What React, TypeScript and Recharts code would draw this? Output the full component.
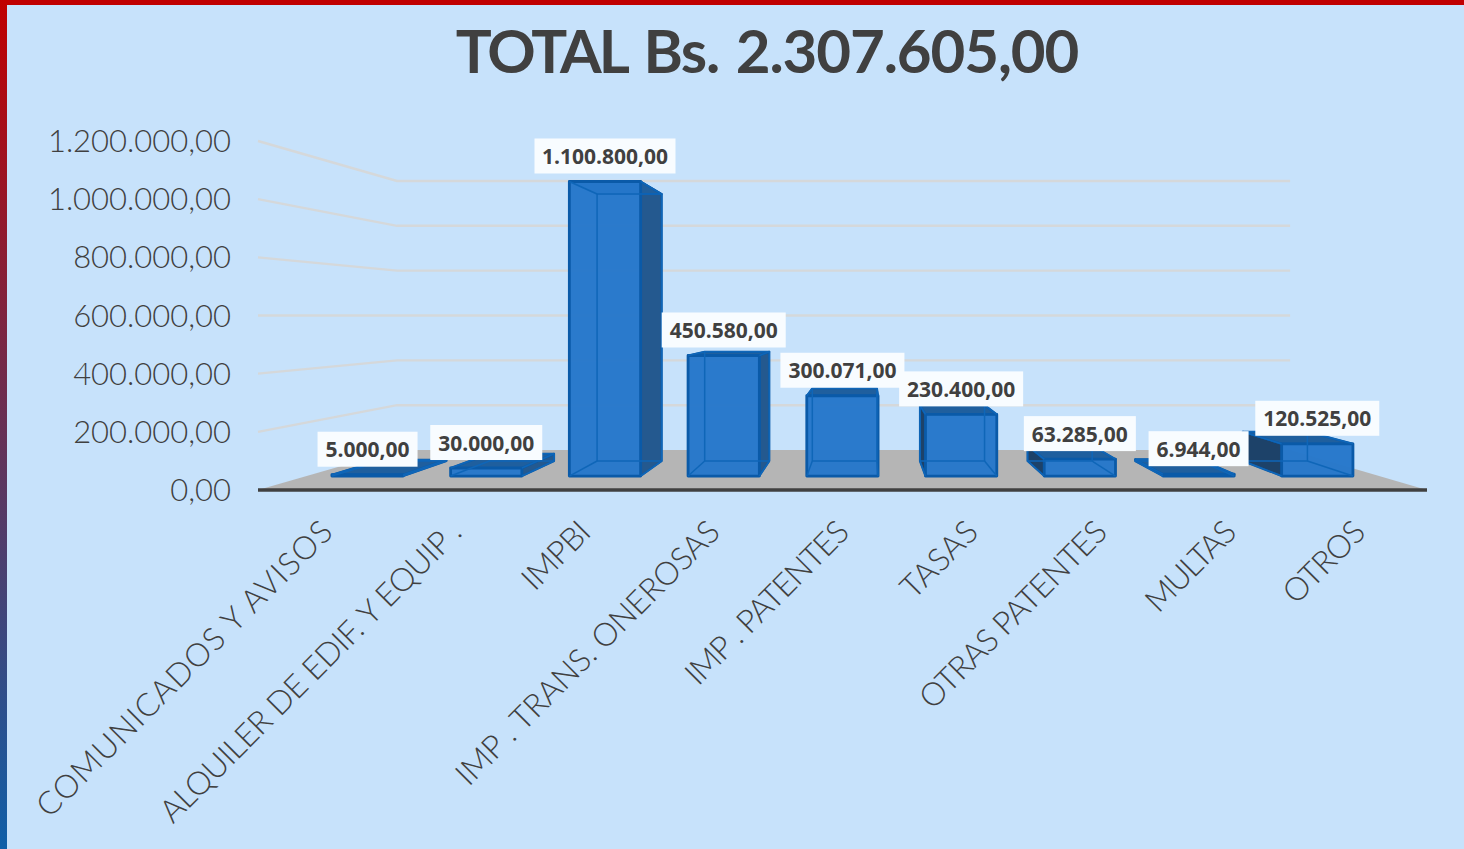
import { BarChart, Bar, XAxis, YAxis, CartesianGrid, LabelList } from 'recharts';

const categories = [
    'COMUNICADOS Y AVISOS',
    'ALQUILER DE EDIF. Y EQUIP .',
    'IMPBI',
    'IMP . TRANS. ONEROSAS',
    'IMP . PATENTES',
    'TASAS',
    'OTRAS PATENTES',
    'MULTAS',
    'OTROS',
];
const values = [5000, 30000, 1100800, 450580, 300071, 230400, 63285, 6944, 120525];
const yTicks = [0, 200000, 400000, 600000, 800000, 1000000, 1200000];

// the original font runs narrower than Lato, so each label gets its measured length
const tickLengths = [403, 411, 82, 358, 216, 94, 250, 113, 101];

const data = categories.map((name, i) => ({ name, value: values[i] }));

// fake 3D: points from the chart plane are pulled towards a vanishing point
const VX = 866;
const VY = 315.5;
const FRONT_VX = 841;
const WALL_VX = 847;
const FRONT_X = 0.914;
const FRONT_Y = 0.92;
const BACK_X = 0.9065;
const BACK_Y = 0.834;
const WALL_X = 0.764;
const WALL_Y = 0.771;

const frontX = (x: number) => FRONT_VX + (x - FRONT_VX) * FRONT_X;
const backX = (x: number) => VX + (frontX(x) - VX) * BACK_X;
const py = (y: number, s: number) => VY + (y - VY) * s;
const pts = (list: number[][]) => list.map((p) => p.join(',')).join(' ');

const money = (v: number) => {
    const s = String(Math.round(v)).replace(/\B(?=(\d{3})+$)/g, '.');
    return `${s},00`;
};

const EDGE = '#0A5AA8';
const INNER = '#0F66B8';

const Box3D = (props: any) => {
    const { x, y, width, height } = props;
    const fl = frontX(x);
    const fr = frontX(x + width);
    const ft = py(y, FRONT_Y);
    const fb = py(y + height, FRONT_Y);
    const bl = backX(x);
    const br = backX(x + width);
    const bt = py(y, BACK_Y);
    const bb = py(y + height, BACK_Y);

    return (
        <g strokeLinejoin="round">
            {bl < fl && (
                <polygon points={pts([[fl, ft], [bl, bt], [bl, bb], [fl, fb]])} fill="#1D4269" stroke={EDGE} strokeWidth={2} />
            )}
            {br > fr && (
                <polygon points={pts([[fr, ft], [br, bt], [br, bb], [fr, fb]])} fill="#24598F" stroke={EDGE} strokeWidth={2} />
            )}
            <polygon points={pts([[fl, ft], [bl, bt], [br, bt], [fr, ft]])} fill="#1F5F9E" stroke={EDGE} strokeWidth={2} />
            <rect x={fl} y={ft} width={fr - fl} height={fb - ft} fill="#2577CA" fillOpacity={0.97} stroke={EDGE} strokeWidth={2.8} />
            <g stroke={INNER} strokeWidth={1.5} fill="none">
                <rect x={bl} y={bt} width={br - bl} height={bb - bt} />
                <line x1={fl} y1={ft} x2={bl} y2={bt} />
                <line x1={fr} y1={ft} x2={br} y2={bt} />
                <line x1={fl} y1={fb} x2={bl} y2={bb} />
                <line x1={fr} y1={fb} x2={br} y2={bb} />
            </g>
        </g>
    );
};

const ValueLabel = (props: any) => {
    const { x, y, width, value } = props;
    const text = money(value);
    const digits = text.replace(/\D/g, '').length;
    const w = digits * 12 + (text.length - digits) * 5 + 18;
    const cx = frontX(x + width / 2);
    const bottom = py(y, FRONT_Y) - 8;
    return (
        <g>
            <rect x={cx - w / 2} y={bottom - 35} width={w} height={35} fill="#F8FCFF" />
            <text x={cx} y={bottom - 9.5} textAnchor="middle" fontFamily="'Open Sans'" fontWeight={700} fontSize={21} fill="#404040">
                {text}
            </text>
        </g>
    );
};

const WallLine = (props: any) => {
    const { x1, x2, y1, key } = props;
    const wx1 = WALL_VX + (x1 - WALL_VX) * WALL_X;
    const wx2 = WALL_VX + (x2 - WALL_VX) * WALL_X;
    const wy = py(y1, WALL_Y);
    if (Math.abs(y1 - 490) < 1) {
        return <polygon key={key} points={pts([[x1, y1], [wx1, wy], [wx2, wy], [x2, y1]])} fill="#B5B5B5" />;
    }
    return <polyline key={key} points={pts([[x1, y1], [wx1, wy], [wx2, wy]])} fill="none" stroke="#D5D8DA" strokeWidth={2.4} />;
};

const CategoryTick = (props: any) => {
    const { x, y, payload, index } = props;
    return (
        <text
            transform={`translate(${x + 12 - (x - 258) * 0.006},${y + 36}) rotate(-45)`}
            textAnchor="end"
            textLength={tickLengths[index]}
            lengthAdjust="spacing"
            fontFamily="Lato"
            fontWeight={300}
            fontSize={32}
            fill="#404040"
        >
            {payload.value}
        </text>
    );
};

export default function App() {
    return (
        <div style={{ position: 'absolute', left: 0, top: 0, width: 1464, height: 849, background: '#C7E2FB', overflow: 'hidden' }}>
            <div style={{ position: 'absolute', left: 0, top: 0, width: 1464, height: 5, background: '#C00000' }} />
            <div style={{ position: 'absolute', left: 0, top: 0, width: 7, height: 849, background: 'linear-gradient(#C00000, #0F5FA8)' }} />
            <div
                style={{
                    position: 'absolute',
                    left: 0,
                    top: 12,
                    width: 1534,
                    textAlign: 'center',
                    fontFamily: 'Lato',
                    fontWeight: 700,
                    fontSize: 60,
                    letterSpacing: -1.1,
                    wordSpacing: 3,
                    lineHeight: '76px',
                    color: '#404040',
                }}
            >
                <span style={{ letterSpacing: -3 }}>TOTAL</span> Bs. 2.307.605,00
            </div>
            <div style={{ position: 'absolute', left: 0, top: 0 }}>
                <BarChart width={1464} height={849} data={data} margin={{ top: 141, right: 37, bottom: 0, left: 0 }}>
                    <CartesianGrid vertical={false} horizontal={(p: any) => <WallLine {...p} />} />
                    <XAxis
                        dataKey="name"
                        height={359}
                        interval={0}
                        tickLine={false}
                        axisLine={{ stroke: '#404040', strokeWidth: 3.5 }}
                        tick={(p: any) => <CategoryTick {...p} />}
                    />
                    <YAxis
                        width={258}
                        domain={[0, 1200000]}
                        ticks={yTicks}
                        tickFormatter={money}
                        tickLine={false}
                        axisLine={false}
                        tickMargin={21}
                        tick={{ fontFamily: 'Lato', fontWeight: 300, fontSize: 31, fill: '#404040' }}
                    />
                    <Bar dataKey="value" barSize={78} shape={(p: any) => <Box3D {...p} />} isAnimationActive={false}>
                        <LabelList dataKey="value" content={(p: any) => <ValueLabel {...p} />} />
                    </Bar>
                </BarChart>
            </div>
        </div>
    );
}
